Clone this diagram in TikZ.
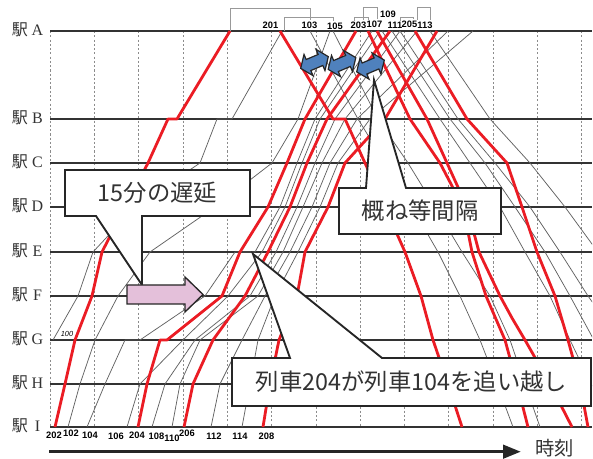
\documentclass[tikz,border=0pt]{standalone}
\usepackage{fontspec}
\setmainfont{Liberation Serif}
\newfontfamily\jp{Noto Sans CJK JP}
\newfontfamily\numf{Liberation Sans}
\definecolor{trainred}{RGB}{235,28,36}
\definecolor{arrowblue}{RGB}{79,129,189}
\definecolor{pinkfill}{RGB}{228,192,218}
\begin{document}
\begin{tikzpicture}[x=0.75pt,y=-0.75pt,
  stn/.style={draw=black!80, line width=1.2pt},
  gridl/.style={draw=black!45, line width=0.4pt, dash pattern=on 1.6pt off 1.6pt},
  rtr/.style={draw=trainred, line width=2.1pt, line join=round},
  gtr/.style={draw=black!62, line width=0.55pt, line join=round},
  brk/.style={draw=black!40, line width=0.6pt},
  num/.style={font=\numf\bfseries\fontsize{7}{7}\selectfont, inner sep=0pt},
  callout/.style={draw=black!85, fill=white, line width=1.4pt, line join=miter},
  ctext/.style={font=\jp\fontsize{17.5}{18}\selectfont, text=black!80, inner sep=0pt},
  stlj/.style={font=\jp\fontsize{12}{12}\selectfont, text=black!80, inner sep=0pt},
  stll/.style={font=\fontsize{12}{12}\selectfont, text=black!80, inner sep=0pt},
  bluearrow/.style={fill=arrowblue, draw=black!85, line width=0.9pt, line join=miter},
  pinkarrow/.style={fill=pinkfill, draw=black!85, line width=1pt, line join=miter}]
\useasboundingbox (0,0) rectangle (593,459);
\fill[white] (0,0) rectangle (593,459);

% grid
\foreach \gx in {50,94.3,138.6,183,227.2,271.5,315.8,360,404.4,448.7,493,537.3,581.6}
  \draw[gridl] (\gx,31) -- (\gx,427);

% station lines and labels
\foreach \sy/\sl in {31/A,119/B,163/C,207/D,252/E,296/F,340/G,384/H,427/I}{
  \draw[stn] (50,\sy) -- (592,\sy);
  \node[stlj] (st\sl) at (20,\sy-1) {駅};
  \node[stll] (sl\sl) at (37.5,\sy-1) {\sl};
}

\begin{scope}
\clip (50,0) rectangle (592,459);
% gray ascending
\draw[gtr] (53,340)--(78,296)--(93,252)--(135,207)--(200,163)--(217,119)--(232,119)--(282,31);
\draw[gtr] (68,427)--(80,384)--(95,340)--(118,296)--(150,252)--(215,207)--(272,163)--(298,119)--(330,31);
\draw[gtr] (87,427)--(105,384)--(125,340)--(140,340)--(205,296)--(235,252)--(255,252)--(280,207)--(297,163)--(315,119)--(372,31);
\draw[gtr] (127,427)--(140,384)--(183,340)--(228,296)--(262,252)--(285,207)--(302,163)--(320,119)--(380,31);
\draw[gtr] (152,427)--(165,384)--(195,340)--(250,296)--(276,252)--(297,207)--(315,163)--(335,119)--(400,31);
\draw[gtr] (172,427)--(180,384)--(200,340)--(258,296)--(283,252)--(303,207)--(322,163)--(345,119)--(417,31);
\draw[gtr] (211,427)--(220,384)--(242,340)--(265,296)--(290,252)--(312,207)--(330,163)--(357,119)--(448,31);
\draw[gtr] (242,427)--(250,384)--(258,340)--(275,296)--(298,252)--(320,207)--(338,163)--(370,119)--(473,31);
% gray descending
\draw[gtr] (310,31)--(358,119)--(385,163)--(412,207)--(438,252)--(460,296)--(480,340)--(497,384)--(513,427);
\draw[gtr] (333,31)--(378,119)--(408,163)--(435,207)--(462,252)--(490,296)--(510,340)--(525,384)--(540,427);
\draw[gtr] (382,31)--(440,119)--(470,163)--(500,207)--(525,252)--(550,296)--(570,340)--(592,386);
\draw[gtr] (392,31)--(450,119)--(485,163)--(515,207)--(545,252)--(570,296)--(595,342);
\draw[gtr] (400,31)--(458,119)--(495,163)--(530,207)--(560,252)--(588,296)--(598,310);
\draw[gtr] (430,31)--(490,119)--(530,163)--(565,207)--(600,255);
% red ascending
\draw[rtr] (55,427)--(65,384)--(75,340)--(92,296)--(102,252)--(125,207)--(148,163)--(168,119)--(177,119)--(230,31);
\draw[rtr] (138,427)--(147,384)--(160,340)--(167,340)--(222,296)--(240,252)--(268,207)--(287,163)--(305,119)--(356,31);
\draw[rtr] (184,427)--(193,384)--(213,340)--(245,296)--(268,252)--(290,207)--(307,163)--(327,119)--(390,31);
\draw[rtr] (263,427)--(270,384)--(279,340)--(297,296)--(305,252)--(328,207)--(345,163)--(385,119)--(437,31);
% red descending
\draw[rtr] (280,31)--(333,119)--(345,119)--(365,163)--(385,207)--(405,252)--(421,296)--(433,340)--(448,384)--(462,427);
\draw[rtr] (368,31)--(410,119)--(440,163)--(463,207)--(472,252)--(486,296)--(505,340)--(517,384)--(528,427);
\draw[rtr] (377,31)--(427,119)--(447,163)--(467,207)--(479,252)--(500,296)--(512,318)--(525,340)--(550,384)--(572,427);
\draw[rtr] (415,31)--(467,119)--(507,163)--(522,207)--(537,252)--(555,296)--(568,340)--(580,384)--(588,427);
\end{scope}

% brackets at top
\draw[brk] (230.5,31)--(230.5,8)--(310,8)--(310,20);
\draw[brk] (284,31)--(284,17)--(333,17)--(333,21);
\draw[brk] (354,21)--(354,17)--(368,17)--(368,20);
\draw[brk] (363,20)--(363,7)--(377,7)--(377,19);
\draw[brk] (400,21)--(400,17)--(413,17)--(413,19);
\draw[brk] (417,20)--(417,7)--(430,7)--(430,20);

% train numbers top
\node[num] (n201) at (270.5,25.5) {201};
\node[num] (n103) at (309.5,25.5) {103};
\node[num] (n105) at (335,26) {105};
\node[num] (n203) at (358.5,25) {203};
\node[num] (n107) at (374.5,24) {107};
\node[num] (n109) at (388,14) {109};
\node[num] (n111) at (395,25) {111};
\node[num] (n205) at (409.5,24) {205};
\node[num] (n113) at (425,25.5) {113};
% train numbers bottom
\node[num] (n202) at (54,435.5) {202};
\node[num] (n102) at (71,433.5) {102};
\node[num] (n104) at (90,435.5) {104};
\node[num] (n106) at (116,436) {106};
\node[num] (n204) at (137,435.5) {204};
\node[num] (n108) at (156.5,436) {108};
\node[num] (n110) at (172,438) {110};
\node[num] (n206) at (187,433) {206};
\node[num] (n112) at (214,436) {112};
\node[num] (n114) at (240,436) {114};
\node[num] (n208) at (266.5,436) {208};
\node[font=\numf\itshape\fontsize{5.5}{5.5}\selectfont, inner sep=0pt] (n100) at (67,333.5) {100};

% callouts
\draw[callout] (65,170)--(250,170)--(250,216)--(142,216)--(142,285)--(96,216)--(65,216)--cycle;
\node[ctext] (t1) at (157.5,193) {15分の遅延};
\draw[callout] (339,188)--(366,188)--(374,80)--(406,188)--(501,188)--(501,234)--(339,234)--cycle;
\node[ctext] (t2) at (420,211) {概ね等間隔};
\draw[callout] (232,358)--(290,358)--(253,254)--(382,358)--(591,358)--(591,406)--(232,406)--cycle;
\node[ctext] (t3) at (411.5,382) {列車204が列車104を追い越し};

% pink arrow
\draw[pinkarrow] (127,285)--(185,285)--(185,277)--(203,294.5)--(185,312)--(185,304)--(127,304)--cycle;

% blue double arrows
\foreach \cx/\cy in {314.5/62.5, 342/63.5, 370.5/66}{
  \draw[bluearrow, shift={(\cx,\cy)}, rotate=23]
    (-15,0)--(-6.5,-11.5)--(-6.5,-6)--(6.5,-6)--(6.5,-11.5)--(15,0)--(6.5,11.5)--(6.5,6)--(-6.5,6)--(-6.5,11.5)--cycle;
}

% time axis
\draw[line width=2pt, black!85] (49,451.7) -- (505,451.7);
\fill[black!85] (503,444.5)--(520.5,451.7)--(503,458.9)--cycle;
\node[font=\jp\fontsize{14.5}{14.5}\selectfont, text=black!80, inner sep=0pt] (tlab) at (554.5,448.5) {時刻};
\end{tikzpicture}
\end{document}
